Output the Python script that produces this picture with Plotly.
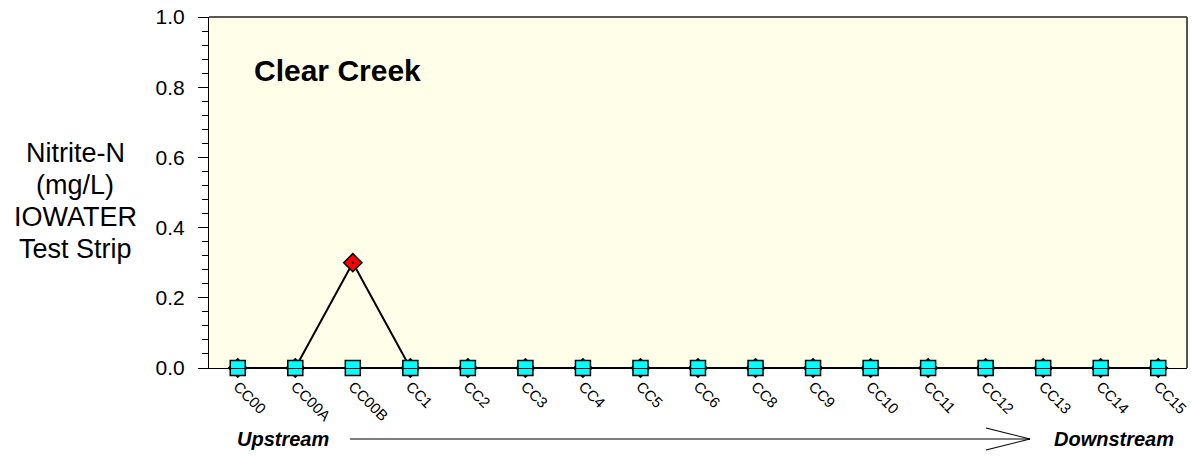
import plotly.graph_objects as go

sites = ["CC00", "CC00A", "CC00B", "CC1", "CC2", "CC3", "CC4", "CC5", "CC6",
         "CC8", "CC9", "CC10", "CC11", "CC12", "CC13", "CC14", "CC15"]
nitrite_squares = [0, 0, 0, 0, 0, 0, 0, 0, 0, 0, 0, 0, 0, 0, 0, 0, 0]
nitrite_diamonds = [0, 0, 0.3, 0, 0, 0, 0, 0, 0, 0, 0, 0, 0, 0, 0, 0, 0]
y_tick_vals = [0.0, 0.2, 0.4, 0.6, 0.8, 1.0]
y_tick_text = ["0.0", "0.2", "0.4", "0.6", "0.8", "1.0"]
ytitle_lines = ["Nitrite-N", "(mg/L)", "IOWATER", "Test Strip"]

FONT = "Arial, Liberation Sans, sans-serif"
W, H = 1192, 466
PL, PR, PT, PB = 209, 1187, 17, 368   # plot area in window pixels
ML, MR, MT, MB = PL, W - PR, PT, H - PB
PW, PH = PR - PL, PB - PT


def px_x(p):
    return (p - PL) / PW


def px_y(p):
    return (PB - p) / PH


fig = go.Figure()
fig.add_trace(go.Scatter(
    x=sites, y=nitrite_diamonds, mode="lines+markers",
    line=dict(color="black", width=2),
    marker=dict(symbol="diamond-dot", size=14, color="#FF0000",
                line=dict(color="black", width=1.5)),
    cliponaxis=False, showlegend=False))
fig.add_trace(go.Scatter(
    x=sites, y=nitrite_squares, mode="lines+markers",
    line=dict(color="black", width=2),
    marker=dict(symbol="square", size=15, color="#00FFFF",
                line=dict(color="black", width=1.5)),
    cliponaxis=False, showlegend=False))

annotations = []
line_centers = [152.5, 184.5, 216.5, 248.5]
for txt, cy in zip(ytitle_lines, line_centers):
    annotations.append(dict(
        text=txt, xref="paper", yref="paper", x=px_x(75), y=px_y(cy),
        xanchor="center", yanchor="middle", showarrow=False,
        font=dict(family=FONT, size=27, color="black")))
annotations.append(dict(
    text="<b>Clear Creek</b>", xref="paper", yref="paper",
    x=px_x(252), y=px_y(70.5), xanchor="left", yanchor="middle",
    showarrow=False, font=dict(family=FONT, size=30, color="black")))
annotations.append(dict(
    text="<b><i>Upstream</i></b>", xref="paper", yref="paper",
    x=px_x(235), y=px_y(439), xanchor="left", yanchor="middle",
    showarrow=False, font=dict(family=FONT, size=20, color="black")))
annotations.append(dict(
    text="<b><i>Downstream</i></b>", xref="paper", yref="paper",
    x=px_x(1052), y=px_y(439), xanchor="left", yanchor="middle",
    showarrow=False, font=dict(family=FONT, size=20, color="black")))

shapes = [
    dict(type="line", xref="paper", yref="paper",
         x0=px_x(350), y0=px_y(439), x1=px_x(1030), y1=px_y(439),
         line=dict(color="black", width=1.2)),
    dict(type="line", xref="paper", yref="paper",
         x0=px_x(986), y0=px_y(428), x1=px_x(1030), y1=px_y(439),
         line=dict(color="black", width=1.2)),
    dict(type="line", xref="paper", yref="paper",
         x0=px_x(986), y0=px_y(450), x1=px_x(1030), y1=px_y(439),
         line=dict(color="black", width=1.2)),
    dict(type="line", xref="paper", yref="paper", layer="above",
         x0=0, y0=1, x1=1, y1=1, line=dict(color="#222222", width=1.5)),
    dict(type="line", xref="paper", yref="paper", layer="above",
         x0=1, y0=0, x1=1, y1=1, line=dict(color="#555555", width=2)),
]

fig.update_layout(
    width=W, height=H,
    margin=dict(l=ML, r=MR, t=MT, b=MB, pad=0, autoexpand=False),
    paper_bgcolor="white", plot_bgcolor="#FFFFE9",
    font=dict(family=FONT, color="black"),
    annotations=annotations, shapes=shapes,
    xaxis=dict(
        type="category", range=[-0.5, 16.5], showgrid=False, zeroline=False,
        showline=True, linecolor="black", linewidth=1, automargin=False,
        ticks="", tickangle=45, tickfont=dict(family=FONT, size=15),
        ticklabelstandoff=3, ticklabeloverflow="allow"),
    yaxis=dict(
        range=[0, 1], showgrid=False, zeroline=False, automargin=False,
        showline=True, linecolor="black", linewidth=1,
        ticks="outside", ticklen=10, tickwidth=1, tickcolor="black",
        tickvals=y_tick_vals, ticktext=y_tick_text,
        tickfont=dict(family=FONT, size=21), ticklabelstandoff=9,
        ticklabeloverflow="allow",
        minor=dict(ticks="outside", ticklen=6, tickcolor="black",
                   dtick=0.04, showgrid=False)),
)

fig.write_html(
    "out.html",
    config={"displayModeBar": False},
    post_script="document.body.style.margin='0';"
                "document.body.style.overflow='hidden';")
